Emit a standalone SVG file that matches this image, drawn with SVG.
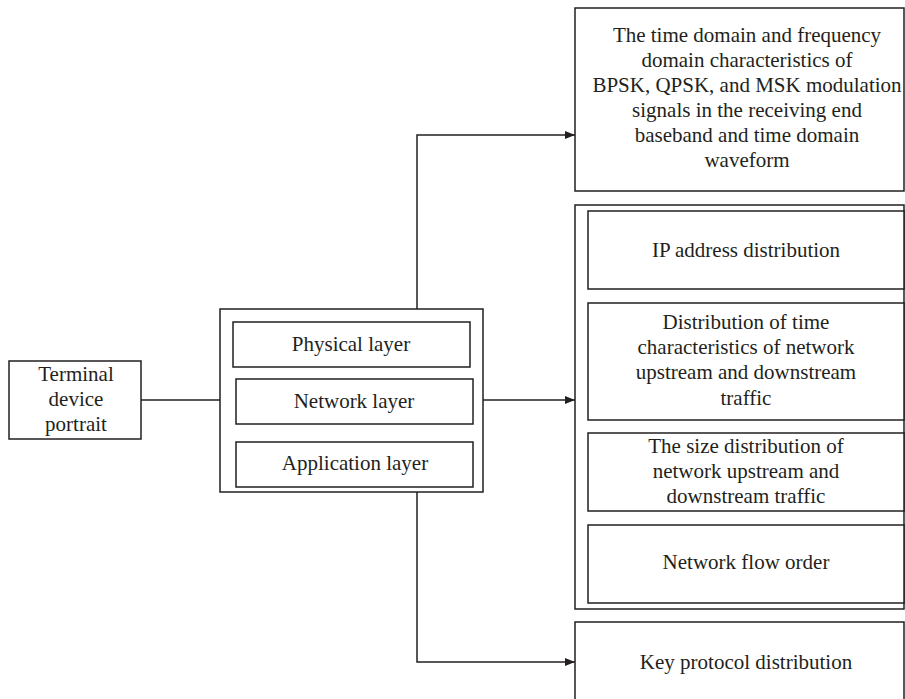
<svg xmlns="http://www.w3.org/2000/svg" width="905" height="699" viewBox="0 0 905 699">
<style>
rect{fill:#fff;stroke:#231f20;stroke-width:1.5}
text{font-family:"Liberation Serif","Times New Roman",serif;font-size:21px;fill:#231f20;text-anchor:middle}
.c{fill:none;stroke:#231f20;stroke-width:1.5}
</style>
<defs>
<marker id="ah" markerWidth="10" markerHeight="8" refX="10" refY="4" orient="auto" markerUnits="userSpaceOnUse">
<path d="M0,0L10,4L0,8z" fill="#231f20"/>
</marker>
</defs>
<rect width="905" height="699" style="fill:#fff;stroke:none"/>
<g id="connectors">
<path class="c" d="M141,400H220"/>
<path class="c" d="M483,400H575" marker-end="url(#ah)"/>
<path class="c" d="M417,309V135H575" marker-end="url(#ah)"/>
<path class="c" d="M417,492V662H575" marker-end="url(#ah)"/>
</g>
<g id="terminal">
<rect x="9" y="361" width="132" height="78"/>
<text x="76" y="381">Terminal</text>
<text x="76" y="406">device</text>
<text x="76" y="431">portrait</text>
</g>
<g id="layers">
<rect x="220" y="309" width="263" height="183"/>
<g id="physical"><rect x="233" y="322" width="237" height="45"/><text x="351" y="351">Physical layer</text></g>
<g id="network"><rect x="236" y="379" width="237" height="45"/><text x="354" y="408">Network layer</text></g>
<g id="application"><rect x="236" y="442" width="237" height="45"/><text x="355" y="470">Application layer</text></g>
</g>
<g id="physical-features">
<rect x="575" y="8" width="329" height="183"/>
<text x="747" y="42">The time domain and frequency</text>
<text x="747" y="67">domain characteristics of</text>
<text x="747" y="92">BPSK, QPSK, and MSK modulation</text>
<text x="747" y="117">signals in the receiving end</text>
<text x="747" y="142">baseband and time domain</text>
<text x="747" y="167">waveform</text>
</g>
<g id="network-features">
<rect x="575" y="205" width="329" height="404"/>
<g id="ip"><rect x="588" y="211" width="316" height="78"/><text x="746" y="257">IP address distribution</text></g>
<g id="time"><rect x="588" y="303" width="316" height="117"/>
<text x="746" y="329">Distribution of time</text>
<text x="746" y="354">characteristics of network</text>
<text x="746" y="379">upstream and downstream</text>
<text x="746" y="405">traffic</text></g>
<g id="size"><rect x="588" y="433" width="316" height="78"/>
<text x="746" y="453">The size distribution of</text>
<text x="746" y="478">network upstream and</text>
<text x="746" y="503">downstream traffic</text></g>
<g id="order"><rect x="588" y="525" width="316" height="78"/><text x="746" y="569">Network flow order</text></g>
</g>
<g id="application-features">
<rect x="575" y="622" width="329" height="90"/>
<text x="746" y="669">Key protocol distribution</text>
</g>
</svg>
